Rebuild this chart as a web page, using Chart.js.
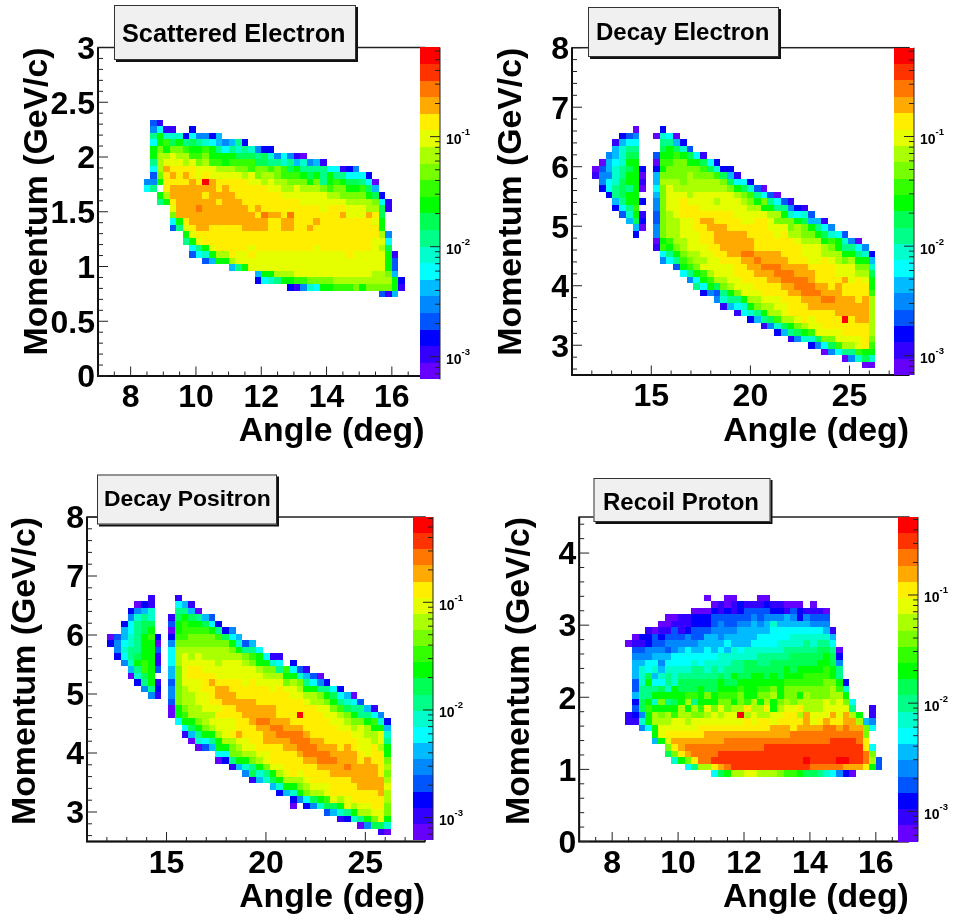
<!DOCTYPE html>
<html>
<head>
<meta charset="utf-8">
<title>Momentum vs angle</title>
<script src="https://cdn.jsdelivr.net/npm/chart.js@4/dist/chart.umd.js"></script>
<style>
  html, body { margin: 0; padding: 0; background: #fff; }
  canvas { position: absolute; }
</style>
</head>
<body>
<canvas id="scattered"></canvas>
<canvas id="decayElectron"></canvas>
<canvas id="decayPositron"></canvas>
<canvas id="recoilProton"></canvas>
<script>
// Colour contours, lowest (a) to highest (t)
const levelCodes = "abcdefghijklmnopqrst"
const levelColors = [
  "#6600ff", "#3300ff", "#0000ff", "#0055ff", "#0088ff",
  "#00bbff", "#00ffff", "#00ffcc", "#00ff88", "#00ff55",
  "#00ff00", "#33ff00", "#77ff00", "#aaff00", "#e5ff00",
  "#ffee00", "#ffaa00", "#ff7700", "#ff3300", "#ff0000"
]

const angleTicksNarrow = [8, 10, 12, 14, 16]
const angleTicksWide = [15, 20, 25]
const momentumTicksScattered = [0, 0.5, 1, 1.5, 2, 2.5, 3]
const momentumTicksDecay = [3, 4, 5, 6, 7, 8]
const momentumTicksProton = [0, 1, 2, 3, 4]
const colourDecades = [0.1, 0.01, 0.001]

// Histogram rows: [row from top, first bin, run-length contour codes]
const scatteredRows = [
  [11, 8, "db"],
  [12, 8, "egbb2.c"],
  [13, 8, "ik3hcg2ecf"],
  [14, 8, "gkljkijihgfefic"],
  [15, 8, "kmkmmlkklkigihihe2c"],
  [16, 8, "k2no2n2lm4k3jijhegeba"],
  [17, 8, "in3onomn2lk4l2j2ihifhefb"],
  [18, 8, "gnq4p3o3n2ml2mlmljk4i2gbce"],
  [19, 8, "dmpqpqpop5onom2nm3lkjkik2i3gc"],
  [20, 7, "2ek4pqptq5p2ono2n3mkmiklk2jiga"],
  [21, 7, "gi.p7qpq6p2o2no3nml2m2kljf"],
  [22, 9, "kn5qp4q7p7o2n4mkjc"],
  [23, 9, "ikp6qp3q9p7o4nmgb"],
  [24, 11, "o3qr7qpq9po3p3o2njb"],
  [25, 11, "m12qpr2qpr7pq3oqpj"],
  [26, 11, "gkp12q2p2q3pq8pok"],
  [27, 11, "diop2q5p4q2p2q2pq10pk"],
  [28, 13, "ko28pne"],
  [29, 13, "iko26p2og"],
  [30, 14, "giko5po9po8ponj"],
  [31, 14, "dghk2np2op14op5okb"],
  [32, 16, "df2kn23okd"],
  [33, 20, "fik21okd"],
  [34, 24, "f2k3n12o2nmf"],
  [35, 24, "cghi2k2l4m9nkc"],
  [36, 29, "cbehg2k3lmk4mkb"],
  [37, 43, "dbf"]
]

const decayElectronRows = [
  [12, 9, "a3.c"],
  [13, 7, "cde2.ahga"],
  [14, 6, "bf2g3.2ifc"],
  [15, 6, "fh2i3.jkjhd"],
  [16, 5, "efh2j2.d2klkjgb"],
  [17, 4, "afgh2k2.a2l2m2kjgc"],
  [18, 3, "adfhijkc.ck5mljh2c"],
  [19, 3, "b2ehi2ka.f4mn3mljfb"],
  [20, 4, "eghj2kb.f3nm5nmj2gc"],
  [21, 4, "cgijika.gmo8nmkjhda"],
  [22, 5, "cij2k2.fm3on6onmligda"],
  [23, 6, "fi2kc.em2op4on3onmkmigdb"],
  [24, 6, "cgil2.em2o3p7o2n2k2iecb"],
  [25, 7, "dhkb.dmno8p5o2nkhghd"],
  [26, 8, "fjc.dm2n2op2q4p2o2po3mkj2fb"],
  [27, 9, "fa.em2n2o2p3q6p3omnmkige"],
  [28, 9, "c2.em2n3o2p5q4pop2n2mkjhgd"],
  [29, 12, "akl2n2o2p6q6po3nklkhea"],
  [30, 12, "blkmn3o2p5q7p3onmk2ige"],
  [31, 13, "gikm2n2o2p2q2r4q3p3o3n2kihc"],
  [32, 13, "egilm2n2o3p2qr4q3p2oponmn2kf"],
  [33, 15, "dklm5o2p2q3r4q4p3o2mh"],
  [34, 16, "gikln3o3p3q3r3q3p3o2nj"],
  [35, 17, "egkl2n2o4p2q4rq4pqopok"],
  [36, 18, "igkjmn3o4p2q3r2qpq4pk"],
  [37, 19, "cedikm3o4p2q3r3q4pl"],
  [38, 21, "eh2ik2n3o3p3q2r3qpqn"],
  [39, 22, "bfghkm2n2o3p9qn"],
  [40, 24, "bghik2no7p5qn"],
  [41, 26, "cfijl2nopo4ptp2qn"],
  [42, 28, "behjkmn2o7pn"],
  [43, 30, "cfijkl4o4pn"],
  [44, 32, "be2hj2m4opm"],
  [45, 35, "cegjl2nopl"],
  [46, 37, "aeg2il2k"],
  [47, 40, "aehjh"],
  [48, 43, "2a"]
]

const decayPositronRows = [
  [12, 9, "b3.b"],
  [13, 7, "acb3.gfb"],
  [14, 6, "cefh3.2ifa"],
  [15, 6, "ehih2.bjkjifd"],
  [16, 5, "cgi2j2.dkl2kjgc"],
  [17, 5, "fgijk2.ak4lkice"],
  [18, 3, "adfhiklc.c2l4mljgf"],
  [19, 3, "ceghi2ka.e8mkhdf"],
  [20, 4, "eh2i2kd.g8nmk2ig"],
  [21, 4, "cgij2kb.gnono6nmlkg2b"],
  [22, 5, "ehklkb.gn5on3onm2khg.c"],
  [23, 6, "filkd.fmo2p8on2milgdb"],
  [24, 6, "ahjk2.fmo4p7o3n2khfda"],
  [25, 7, "cikb.dm3opq4pop4omnmigec"],
  [26, 8, "eic.emn2o2p2q6pop2on2k2igc"],
  [27, 9, "eb.em2n2op3q8p2o2nmkjgfa"],
  [28, 12, "dm2n2o2p5q7po2nmkihgd"],
  [29, 12, "akm2n3o2p6q6p2omlj2ifb"],
  [30, 12, "akl4n4p5q3pt3p2onmk2ige"],
  [31, 13, "g2kmn4o2pq2r3q6p2on2mklhc"],
  [32, 14, "gjkmn3o3p2q2r3q5p2onon2kf"],
  [33, 14, "bfi2knopq3p2q4rq6p2o2noh"],
  [34, 15, "ahgik2n2o2p4q3r2q5p2onoi"],
  [35, 16, "adf2kmn2o4p2q3r3qpqp2opnk"],
  [36, 19, "2g2m2n2o4pq4r4qpo2pk"],
  [37, 19, "aci2kmno5p2q3r3qpq2pm"],
  [38, 21, "bfhikm2o5p4qr4qpn"],
  [39, 23, "ejhiknopo4p7qpm"],
  [40, 24, "bfhjk3no6p5qn"],
  [41, 27, "fh2kmn3o4p4qo"],
  [42, 28, "cfhkm2no7pqn"],
  [43, 30, "cegjklono5pn"],
  [44, 30, "a.ceh2jkon2o2pm"],
  [45, 35, "dfhik2n2om"],
  [46, 37, "bchikmok"],
  [47, 40, "ae2jh"],
  [48, 43, "ba"]
]

const recoilProtonRows = [
  [12, 19, "a2.2a3.2a"],
  [13, 20, "ababc3bc2b3a.a"],
  [14, 17, "3acbcbc4d2cbdc3ba"],
  [15, 13, "2a2b3c6ded3efece3d"],
  [16, 12, "2a3b3cde2d2efefh5f3e"],
  [17, 10, "ba2bdbc3d4e5f8gfb"],
  [18, 8, "a2cdc3de2d2fe5f5g6hf"],
  [19, 7, "a2bc2d5e4fg3f4g4hih2ig"],
  [20, 8, "2d3edefg2fgfgfhg6h5i2jia"],
  [21, 8, "3e3f7g6h5i5jkjc"],
  [22, 8, "2f2ge4ghg4h2i2j2i7j2kje"],
  [23, 8, "fhghf4h2ihih3i6jkj4klki"],
  [24, 8, "fhjfhih6ijik2j2kjkj3k4lki"],
  [25, 8, "dhk2gih6jk2j7k6l2mkc"],
  [26, 8, "d3ijhk3jk2j3kl2k2lmk7mnlh"],
  [27, 8, "f2i5k2lkmk3lm2k2mnk2mkn3m2nk"],
  [28, 8, "cjkhmijkni3k2mkmlnknkmnm4nonomg"],
  [29, 8, "djl4knknlomom2np2npkn2op3n4oi2.b"],
  [30, 7, "bceknmnl2n2mnon2otno2n2o2pnq3oqoqnk.b"],
  [31, 7, "2bhk3n2on8opo2po4pqopq2p2qnfe"],
  [32, 9, "egk6o11p3qp4q2rqr2qmg"],
  [33, 11, "ko6p13q11rm"],
  [34, 11, "fko8q16r4srp"],
  [35, 13, "mpq12r15spg"],
  [36, 13, "jmpq4r22srm"],
  [37, 14, "hkmp2r14st4s2t2srnd"],
  [38, 16, "gi2npqr12s5r3qpkd"],
  [39, 20, "gjk2n2o3nm2lk2jihgeca"]
]

const bins = 50
const fontFamily = "'Liberation Sans', Arial, sans-serif"

// Layout of each pad, page pixels
const panels = [
  { id: "scattered", name: "Scattered Electron", rows: scatteredRows,
    canvas: [0, 0, 477, 460], frame: [98, 47.5, 424.5, 376],
    xRange: [7, 17], yRange: [0, 3], xTicks: angleTicksNarrow, yTicks: momentumTicksScattered,
    xMinor: 0.5, yMinor: 0.1, zRange: [0.000668, 0.646], zBar: [0.000622, 0.646], barX: 420,
    titleBox: [114, 5, 242, 55], titleSize: 25.3, titleTextX: 122, titleBase: 41.7,
    yTitleLeft: 17, xTitleY: 432 },
  { id: "decayElectron", name: "Decay Electron", rows: decayElectronRows,
    canvas: [477, 0, 477, 460], frame: [572, 47.7, 909, 375],
    xRange: [11, 28], yRange: [2.5, 8], xTicks: angleTicksWide, yTicks: momentumTicksDecay,
    xMinor: 1, yMinor: 0.2, zRange: [0.000668, 0.646], zBar: [0.000668, 0.646], barX: 894,
    titleBox: [588, 7, 191, 50], titleSize: 24, titleTextX: 596, titleBase: 40,
    yTitleLeft: 491, xTitleY: 432 },
  { id: "decayPositron", name: "Decay Positron", rows: decayPositronRows,
    canvas: [0, 460, 477, 461], frame: [87, 517, 425, 841.5],
    xRange: [11, 28], yRange: [2.5, 8], xTicks: angleTicksWide, yTicks: momentumTicksDecay,
    xMinor: 1, yMinor: 0.2, zRange: [0.00062, 0.62], zBar: [0.00062, 0.62], barX: 413,
    titleBox: [97, 474.5, 180, 50], titleSize: 22.9, titleTextX: 104, titleBase: 506,
    yTitleLeft: 5, xTitleY: 898 },
  { id: "recoilProton", name: "Recoil Proton", rows: recoilProtonRows,
    canvas: [477, 460, 477, 461], frame: [579.2, 517, 908.8, 841.5],
    xRange: [7, 17], yRange: [0, 4.5], xTicks: angleTicksNarrow, yTicks: momentumTicksProton,
    xMinor: 0.5, yMinor: 0.2, zRange: [0.000526, 0.526], zBar: [0.000526, 0.526], barX: 898,
    titleBox: [593.5, 478, 177, 44], titleSize: 24, titleTextX: 603, titleBase: 509.7,
    yTitleLeft: 499, xTitleY: 898 }
]

function expandRuns(text) {
  let out = ""
  for (const m of text.matchAll(/(\d*)([a-t.])/g)) {
    out += m[2].repeat(m[1] ? parseInt(m[1]) : 1)
  }
  return out
}

function buildCells(panel) {
  const binX = (panel.xRange[1] - panel.xRange[0]) / bins
  const binY = (panel.yRange[1] - panel.yRange[0]) / bins
  const cells = []
  for (const [row, first, runs] of panel.rows) {
    const codes = expandRuns(runs)
    for (let i = 0; i < codes.length; i++) {
      if (codes[i] === ".") continue
      cells.push({
        x: panel.xRange[0] + (first + i + 0.5) * binX,
        y: panel.yRange[1] - (row + 0.5) * binY,
        level: levelCodes.indexOf(codes[i])
      })
    }
  }
  return { cells, binX, binY }
}

// Multiples of step inside a scale's range
function minorValues(min, max, step) {
  const out = []
  const first = Math.ceil(min / step - 1e-6)
  const last = Math.floor(max / step + 1e-6)
  for (let i = first; i <= last; i++) out.push(i * step)
  return out
}

// neighbouring cells must share an edge, so drop float noise before rounding
function snap(px) {
  return Math.round(+px.toFixed(2))
}

const padPlugin = {
  id: "pad",
  beforeDatasetsDraw(chart) {
    const { ctx, scales: { x, y } } = chart
    const { binX, binY } = chart.options.plugins.pad
    for (const p of chart.data.datasets[0].data) {
      const l = snap(x.getPixelForValue(p.x - binX / 2))
      const r = snap(x.getPixelForValue(p.x + binX / 2))
      const t = snap(y.getPixelForValue(p.y + binY / 2))
      const b = snap(y.getPixelForValue(p.y - binY / 2))
      ctx.fillStyle = levelColors[p.level]
      ctx.fillRect(l, t, r - l, b - t)
    }
  },
  afterDatasetsDraw(chart) {
    const { ctx, chartArea: a, scales: { x, y, z } } = chart
    const panel = chart.options.plugins.pad.panel
    const ox = panel.canvas[0]
    const oy = panel.canvas[1]

    // frame and ticks pointing into the plot
    ctx.save()
    ctx.strokeStyle = "#222"
    ctx.lineWidth = 1.5
    ctx.strokeRect(a.left, a.top, a.right - a.left, a.bottom - a.top)
    ctx.lineWidth = 2
    ctx.strokeStyle = "#111"
    ctx.beginPath()
    ctx.moveTo(a.left, a.top)
    ctx.lineTo(a.left, a.bottom)
    ctx.lineTo(a.right, a.bottom)
    ctx.stroke()
    ctx.lineWidth = 1
    ctx.strokeStyle = "#222"
    ctx.beginPath()
    for (const v of minorValues(panel.xRange[0], panel.xRange[1], panel.xMinor)) {
      const major = panel.xTicks.includes(v)
      const px = x.getPixelForValue(v)
      ctx.moveTo(px, a.bottom)
      ctx.lineTo(px, a.bottom - (major ? 9.5 : 4.5))
    }
    for (const v of minorValues(panel.yRange[0], panel.yRange[1], panel.yMinor)) {
      const major = panel.yTicks.some(t => Math.abs(t - v) < 1e-6)
      const py = y.getPixelForValue(v)
      ctx.moveTo(a.left, py)
      ctx.lineTo(a.left + (major ? 10 : 5), py)
    }
    ctx.stroke()

    // colour bar
    const barLeft = panel.barX - ox
    const barW = 20
    const lo = Math.log10(panel.zBar[0])
    const hi = Math.log10(panel.zBar[1])
    const dz = (hi - lo) / levelColors.length
    levelColors.forEach((c, k) => {
      const t = Math.round(z.getPixelForValue(10 ** (lo + (k + 1) * dz)))
      const b = Math.round(z.getPixelForValue(10 ** (lo + k * dz)))
      ctx.fillStyle = c
      ctx.fillRect(barLeft, t, barW, b - t)
    })
    const barTop = z.getPixelForValue(panel.zBar[1])
    const barBottom = z.getPixelForValue(panel.zBar[0])
    ctx.strokeStyle = "#222"
    ctx.lineWidth = 1
    ctx.beginPath()
    ctx.moveTo(barLeft + barW, barTop)
    ctx.lineTo(barLeft + barW, barBottom)
    for (const decade of [1, ...colourDecades, 0.0001]) {
      for (let m = 1; m < 10; m++) {
        const v = decade * m
        if (v < panel.zBar[0] || v > panel.zBar[1]) continue
        const py = z.getPixelForValue(v)
        ctx.moveTo(barLeft + barW, py)
        ctx.lineTo(barLeft + barW - (m === 1 ? 10 : 5), py)
      }
    }
    ctx.stroke()
    ctx.fillStyle = "#000"
    ctx.textBaseline = "alphabetic"
    ctx.textAlign = "left"
    colourDecades.forEach((v, n) => {
      const py = z.getPixelForValue(v)
      ctx.font = "bold 14px " + fontFamily
      ctx.fillText("10", barLeft + barW + 6, py + 7.5)
      ctx.font = "bold 9.5px " + fontFamily
      ctx.fillText("-" + (n + 1), barLeft + barW + 21.5, py - 1.5)
    })

    // title box with its shadow
    const [bx, by, bw, bh] = panel.titleBox
    ctx.fillStyle = "#111"
    ctx.fillRect(bx - ox + 2, by - oy + 2, bw, bh)
    ctx.fillStyle = "#f0f0f0"
    ctx.fillRect(bx - ox, by - oy, bw, bh)
    ctx.strokeStyle = "#333"
    ctx.lineWidth = 1
    ctx.strokeRect(bx - ox + 0.5, by - oy + 0.5, bw - 1, bh - 1)
    ctx.fillStyle = "#000"
    ctx.font = "bold " + panel.titleSize + "px " + fontFamily
    ctx.fillText(panel.name, panel.titleTextX - ox, panel.titleBase - oy)
    ctx.restore()
  }
}

for (const panel of panels) {
  const canvas = document.getElementById(panel.id)
  const [cx, cy, cw, ch] = panel.canvas
  const [fl, ft, fr, fb] = panel.frame
  canvas.width = cw
  canvas.height = ch
  canvas.style.left = cx + "px"
  canvas.style.top = cy + "px"

  const { cells, binX, binY } = buildCells(panel)
  const titleFont = { family: fontFamily, size: 33.8, weight: "bold" }
  const tickFont = { family: fontFamily, size: 32, weight: "bold" }
  const lineH = titleFont.size * 1.2
  const xHeight = panel.xTitleY + lineH / 2 - fb

  new Chart(canvas, {
    type: "scatter",
    data: { datasets: [{ data: cells, pointRadius: 0, pointHoverRadius: 0 }] },
    options: {
      responsive: false,
      animation: false,
      events: [],
      layout: {
        padding: {
          left: panel.yTitleLeft - cx,
          top: ft - cy,
          right: cx + cw - fr,
          bottom: cy + ch - fb - xHeight
        }
      },
      plugins: {
        legend: { display: false },
        tooltip: { enabled: false },
        pad: { panel, binX, binY }
      },
      scales: {
        x: {
          type: "linear",
          min: panel.xRange[0],
          max: panel.xRange[1],
          grid: { display: false, drawTicks: false },
          border: { display: false },
          afterBuildTicks: s => { s.ticks = panel.xTicks.map(value => ({ value })) },
          afterFit: s => { s.height = xHeight },
          ticks: { font: tickFont, color: "#000", padding: 3, maxRotation: 0, autoSkip: false, callback: v => String(v) },
          title: { display: true, text: "Angle (deg)", align: "end", color: "#000", font: titleFont, padding: 0 }
        },
        y: {
          type: "linear",
          min: panel.yRange[0],
          max: panel.yRange[1],
          grid: { display: false, drawTicks: false },
          border: { display: false },
          afterBuildTicks: s => { s.ticks = panel.yTicks.map(value => ({ value })) },
          afterFit: s => { s.width = fl - panel.yTitleLeft },
          ticks: { font: tickFont, color: "#000", padding: 3, labelOffset: 2.5, autoSkip: false, callback: v => String(v) },
          title: { display: true, text: "Momentum (GeV/c)", align: "end", color: "#000", font: titleFont, padding: 0 }
        },
        z: {
          type: "logarithmic",
          display: false,
          position: "right",
          min: panel.zRange[0],
          max: panel.zRange[1]
        }
      }
    },
    plugins: [padPlugin]
  })
}
</script>
</body>
</html>
